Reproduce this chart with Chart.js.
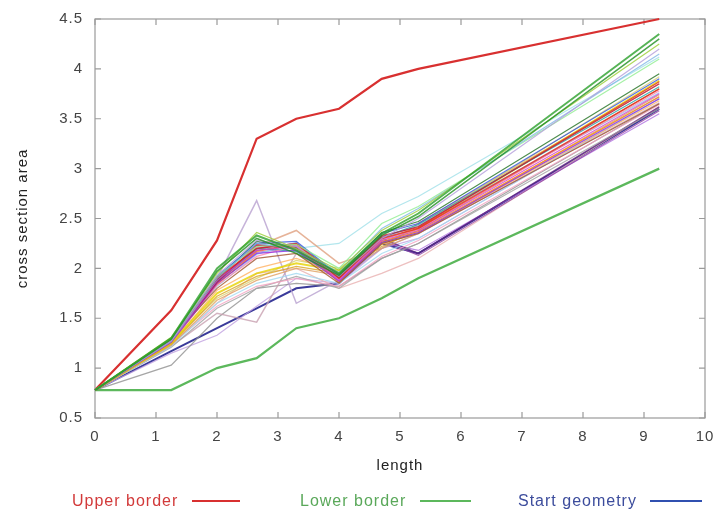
<!DOCTYPE html>
<html><head><meta charset="utf-8">
<script src="https://cdn.jsdelivr.net/npm/chart.js@4/dist/chart.umd.min.js"></script>
<style>
html,body{margin:0;padding:0;background:#fff;}
#wrap{position:relative;width:717px;height:514px;font-family:"Liberation Sans",Arial,sans-serif;}
canvas{position:absolute;left:0;top:0;}
.lg{position:absolute;font-size:16px;letter-spacing:1px;line-height:18px;top:492px;white-space:nowrap;}
.ll{position:absolute;height:2px;top:500px;}
</style></head>
<body><div id="wrap"><canvas id="c" width="717" height="514"></canvas>
<span class="lg" style="left:72px;color:#d23a3a">Upper border</span><div class="ll" style="left:192px;width:48px;background:#d83030"></div>
<span class="lg" style="left:300px;color:#5aa85a">Lower border</span><div class="ll" style="left:420px;width:51px;background:#5cb85c"></div>
<span class="lg" style="left:518px;color:#3c4c9c">Start geometry</span><div class="ll" style="left:650px;width:52px;background:#3050b0"></div>
</div>
<script>
const xNodes = [0, 1.25, 2, 2.65, 3.3, 4, 4.7, 5.3, 9.25];
const upperBorder   = [0.78, 1.58, 2.28, 3.30, 3.50, 3.60, 3.90, 4.00, 4.50];
const lowerBorder   = [0.78, 0.78, 1.00, 1.10, 1.40, 1.50, 1.70, 1.90, 3.00];
const startGeometry = [0.78, 1.17, 1.40, 1.60, 1.80, 1.85, 2.25, 2.15, 3.60];
const xTicks = [0,1,2,3,4,5,6,7,8,9,10];
const yTicks = [0.5,1,1.5,2,2.5,3,3.5,4,4.5];

const g1 = [0.78,1.30,2.00,2.33,2.18,1.95,2.35,2.55,4.35];
const g2 = [0.78,1.29,1.97,2.30,2.15,1.93,2.33,2.52,4.30];
const g3 = [0.78,1.31,1.95,2.36,2.20,1.98,2.38,2.58,4.25];
const g4 = [0.78,1.28,1.93,2.28,2.22,1.92,2.30,2.50,4.20];
const g5 = [0.78,1.27,1.90,2.25,2.19,1.96,2.40,2.60,4.15];
const g6 = [0.78,1.30,1.92,2.22,2.24,2.00,2.45,2.62,4.10];
const r1 = [0.78,1.28,1.90,2.20,2.25,1.90,2.30,2.40,3.80];
const r2 = [0.78,1.27,1.88,2.18,2.22,1.88,2.28,2.38,3.75];
const r3 = [0.78,1.29,1.86,2.23,2.20,1.92,2.32,2.42,3.85];
const r4 = [0.78,1.26,1.85,2.15,2.18,1.87,2.26,2.36,3.70];
const r5 = [0.78,1.28,1.92,2.25,2.27,1.93,2.35,2.45,3.90];
const r6 = [0.78,1.30,1.80,2.10,2.15,1.85,2.25,2.35,3.65];
const r7 = [0.78,1.27,1.83,2.12,2.23,1.89,2.29,2.39,3.78];
const r8 = [0.78,1.29,1.87,2.20,2.17,1.91,2.31,2.44,3.82];
const r9 = [0.78,1.28,1.89,2.27,2.21,1.94,2.36,2.47,3.95];
const r10 = [0.78,1.26,1.84,2.17,2.24,1.86,2.27,2.37,3.72];
const r11 = [0.78,1.30,1.91,2.24,2.19,1.90,2.33,2.41,3.87];
const r12 = [0.78,1.27,1.82,2.14,2.26,1.88,2.30,2.43,3.76];
const y1 = [0.78,1.25,1.75,1.95,2.05,1.98,2.25,2.40,3.88];
const y2 = [0.78,1.24,1.72,1.92,2.02,1.95,2.22,2.38,3.80];
const y3 = [0.78,1.26,1.70,1.90,2.08,2.00,2.28,2.42,3.92];
const y4 = [0.78,1.23,1.68,1.88,2.00,1.93,2.20,2.35,3.74];
const y5 = [0.78,1.25,1.78,2.00,2.10,1.96,2.24,2.36,3.68];
const c1 = [0.78,1.22,1.65,1.85,1.95,1.85,2.15,2.30,3.70];
const c2 = [0.78,1.24,1.62,1.82,1.90,1.82,2.12,2.28,3.64];
const c3 = [0.78,1.21,1.60,1.80,1.92,1.80,2.10,2.25,3.60];
const p1 = [0.78,1.26,1.88,2.20,2.25,1.92,2.30,2.15,3.62];
const p2 = [0.78,1.27,1.86,2.18,2.23,1.90,2.28,2.13,3.58];
const p3 = [0.78,1.25,1.84,2.16,2.21,1.88,2.26,2.18,3.55];
const o1 = [0.78,1.28,1.90,2.68,1.65,1.88,2.20,2.35,3.72];
const o2 = [0.78,1.22,1.55,1.46,2.15,1.90,2.25,2.35,3.66];
const o3 = [0.78,1.27,1.85,2.22,2.38,2.05,2.20,2.45,3.85];
const o4 = [0.78,1.30,1.92,2.25,2.20,2.25,2.55,2.72,4.12];
const o5 = [0.78,1.03,1.50,1.80,1.85,1.82,2.10,2.25,3.65];
const o6 = [0.78,1.24,1.65,1.95,2.00,1.80,1.95,2.10,3.62];
const o7 = [0.78,1.15,1.33,1.62,1.90,1.85,2.20,2.30,3.70];

const bundle = [g1,g2,g3,g4,g5,g6,r1,r2,r3,r4,r5,r6,r7,r8,r9,r10,r11,r12,y1,y2,y3,y4,y5,c1,c2,c3,p1,p2,p3,o1,o2,o3,o4,o5,o6,o7];
const bundleColors = ['#2ca02c','#1f8f1f','#9acd32','#b39ddb','#7fb8e6','#90ee90',
 '#e02020','#d040d0','#c0143c','#8a2be2','#3050e0','#a0522d','#ff80b0','#20a0a0','#207020','#ff8c00','#e03030','#87ceeb',
 '#e6d200','#daa520','#d8cf70','#e0a060','#ffb060',
 '#a0d8f0','#f4a0c0','#a0a0a0',
 '#602080','#9040a0','#b070e0',
 '#b8a0d0','#c8a0b0','#e0a080','#a0e0e8','#909090','#e8b0b0','#c0a0e0'];
const bundleWidths = [2,1.5,1.2,1.2,1.2,1.2, 1.5,1.2,1.2,1.2,1.2,1.2,1.2,1.2,1.2,1.2,1.2,1.2, 2,1.2,1.2,1.2,1.2, 1.2,1.2,1.2, 1.5,1.2,1.2, 1.5,1.5,1.5,1.2,1.2,1.2,1.2];

function pts(ys){ return ys.map((y,i)=>({x:xNodes[i], y:y})); }

const datasets = [];
bundle.forEach((ys,i)=>{
  datasets.push({data:pts(ys), borderColor:bundleColors[i]+'cc', borderWidth:bundleWidths[i]});
});
datasets.push({data:pts(startGeometry), borderColor:'#3a3a9a', borderWidth:2});
datasets.push({data:pts(upperBorder), borderColor:'#d83030', borderWidth:2.2});
datasets.push({data:pts(lowerBorder), borderColor:'#5cb85c', borderWidth:2.2});
datasets.forEach(d=>{ d.pointRadius=0; d.fill=false; d.tension=0; d.clip=false; d.showLine=true; });

const spacing = {
  id:'spacing',
  beforeUpdate(chart){ chart.ctx.letterSpacing='1px'; },
  beforeLayout(chart){ chart.ctx.letterSpacing='1px'; },
  beforeDraw(chart){ chart.ctx.letterSpacing='1px'; }
};
const frame = {
  id:'frame',
  beforeDatasetsDraw(chart){
    const {ctx, chartArea:a, scales:{x, y}} = chart;
    ctx.save();
    ctx.letterSpacing='0px';
    ctx.strokeStyle='#9a9a9a';
    ctx.lineWidth=1.2;
    ctx.strokeRect(a.left, a.top, a.right-a.left, a.bottom-a.top);
    ctx.beginPath();
    const tl=6;
    xTicks.forEach(v=>{ const px=x.getPixelForValue(v);
      ctx.moveTo(px,a.bottom); ctx.lineTo(px,a.bottom-tl);
      ctx.moveTo(px,a.top); ctx.lineTo(px,a.top+tl); });
    yTicks.forEach(v=>{ const py=y.getPixelForValue(v);
      ctx.moveTo(a.left,py); ctx.lineTo(a.left+tl,py);
      ctx.moveTo(a.right,py); ctx.lineTo(a.right-tl,py); });
    ctx.stroke();
    ctx.restore();
  }
};

new Chart(document.getElementById('c'), {
  type:'scatter',
  data:{datasets},
  plugins:[spacing, frame],
  options:{
    responsive:false, animation:false, devicePixelRatio:1,
    layout:{padding:{left:14,right:12,top:19,bottom:39}},
    plugins:{legend:{display:false}, tooltip:{enabled:false}},
    scales:{
      x:{type:'linear', min:0, max:10,
        afterBuildTicks(s){ s.ticks = xTicks.map(v=>({value:v})); },
        afterFit(s){ s.height=57; s.paddingLeft=0; s.paddingRight=0; },
        grid:{display:false, drawTicks:false}, border:{display:false},
        ticks:{padding:10, color:'#444', font:{family:'"Liberation Sans", Arial', size:15}, maxRotation:0, autoSkip:false, callback:v=>String(v)},
        title:{display:true, text:'length', color:'#222', font:{family:'"Liberation Sans", Arial', size:15}, padding:0}
      },
      y:{type:'linear', min:0.5, max:4.5,
        afterBuildTicks(s){ s.ticks = yTicks.map(v=>({value:v})); },
        afterFit(s){ s.width=81; s.paddingTop=0; s.paddingBottom=0; },
        grid:{display:false, drawTicks:false}, border:{display:false},
        ticks:{padding:12, color:'#444', font:{family:'"Liberation Sans", Arial', size:15}, autoSkip:false, callback:v=>String(v)},
        title:{display:true, text:'cross section area', color:'#222', font:{family:'"Liberation Sans", Arial', size:15}, padding:0}
      }
    }
  }
});
</script></body></html>
